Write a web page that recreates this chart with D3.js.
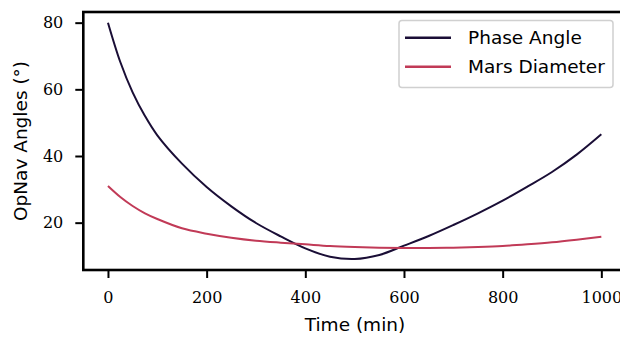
<!DOCTYPE html>
<html>
<head>
<meta charset="utf-8">
<script src="https://cdn.jsdelivr.net/npm/d3@7"></script>
<style>
  body { margin: 0; background: #fff; }
  svg { display: block; }
</style>
</head>
<body>
<svg width="620" height="338"></svg>
<script>
// Data
var times = [0, 25, 50, 75, 100, 150, 200, 250, 300, 350, 400, 450, 500,
             550, 600, 650, 700, 750, 800, 850, 900, 950, 1000];
var phaseAngle = [80, 68.2, 59.1, 52.0, 46.2, 37.7, 30.7, 24.9, 19.9, 15.9, 12.3, 9.8, 9.1,
                  10.3, 13.1, 16.0, 19.3, 22.8, 26.6, 30.8, 35.2, 40.4, 46.5];
var marsDiameter = [31.0, 27.7, 25.0, 22.8, 21.1, 18.3, 16.7, 15.5, 14.6, 14.0, 13.5, 13.0, 12.7,
                    12.5, 12.4, 12.4, 12.5, 12.7, 13.0, 13.5, 14.1, 14.9, 15.8];
var seriesNames = ["Phase Angle", "Mars Diameter"];
var xTicks = [0, 200, 400, 600, 800, 1000];
var yTicks = [20, 40, 60, 80];

var svg = d3.select("svg");
var plotLeft = 83.3, plotTop = 12, plotRight = 626, plotBottom = 270;
var colors = ["#1a0e36", "#c13a57"];
var serif = "'DejaVu Serif', 'Liberation Serif', serif";
var sans = "'DejaVu Sans', sans-serif";

var x = d3.scaleLinear().domain([-50, 1050]).range([plotLeft, plotRight]);
var y = d3.scaleLinear().domain([5.8, 83.2]).range([plotBottom, plotTop]);

// Axes
var xAxis = svg.append("g")
    .attr("transform", "translate(0," + plotBottom + ")")
    .call(d3.axisBottom(x).tickValues(xTicks).tickSize(8).tickPadding(13.5).tickFormat(d3.format("d")));
var yAxis = svg.append("g")
    .attr("transform", "translate(" + plotLeft + ",0)")
    .call(d3.axisLeft(y).tickValues(yTicks).tickSize(8).tickPadding(12).tickFormat(d3.format("d")));

[xAxis, yAxis].forEach(function (g) {
    g.select(".domain").remove();
    g.selectAll(".tick line").attr("stroke", "#000").attr("stroke-width", 2);
    g.selectAll(".tick text")
        .attr("font-family", serif)
        .attr("font-size", 16)
        .attr("fill", "#000");
});

// Lines
var line = d3.line()
    .x(function (d) { return x(d[0]); })
    .y(function (d) { return y(d[1]); })
    .curve(d3.curveCatmullRom.alpha(0.5));

[phaseAngle, marsDiameter].forEach(function (vals, i) {
    svg.append("path")
        .datum(times.map(function (t, j) { return [t, vals[j]]; }))
        .attr("fill", "none")
        .attr("stroke", colors[i])
        .attr("stroke-width", 2)
        .attr("d", line);
});

// Frame
svg.append("rect")
    .attr("x", plotLeft).attr("y", plotTop)
    .attr("width", plotRight - plotLeft).attr("height", plotBottom - plotTop)
    .attr("fill", "none").attr("stroke", "#000").attr("stroke-width", 2.6);

// Axis labels
svg.append("text")
    .attr("x", 355).attr("y", 331)
    .attr("text-anchor", "middle")
    .attr("font-family", sans).attr("font-size", 18.5)
    .text("Time (min)");
svg.append("text")
    .attr("transform", "translate(27,141) rotate(-90)")
    .attr("text-anchor", "middle")
    .attr("font-family", sans).attr("font-size", 18.5)
    .text("OpNav Angles (°)");

// Legend
var legend = svg.append("g");
legend.append("rect")
    .attr("x", 399).attr("y", 20.5)
    .attr("width", 214).attr("height", 67)
    .attr("rx", 3)
    .attr("fill", "#fff").attr("fill-opacity", 0.8)
    .attr("stroke", "#d0d0d0").attr("stroke-width", 1.5);
seriesNames.forEach(function (name, i) {
    var ly = 37.7 + i * 29;
    legend.append("line")
        .attr("x1", 405).attr("x2", 451)
        .attr("y1", ly).attr("y2", ly)
        .attr("stroke", colors[i]).attr("stroke-width", 2.5);
    legend.append("text")
        .attr("x", 468).attr("y", ly + 6.6)
        .attr("font-family", sans).attr("font-size", 18.5)
        .text(name);
});
</script>
</body>
</html>
